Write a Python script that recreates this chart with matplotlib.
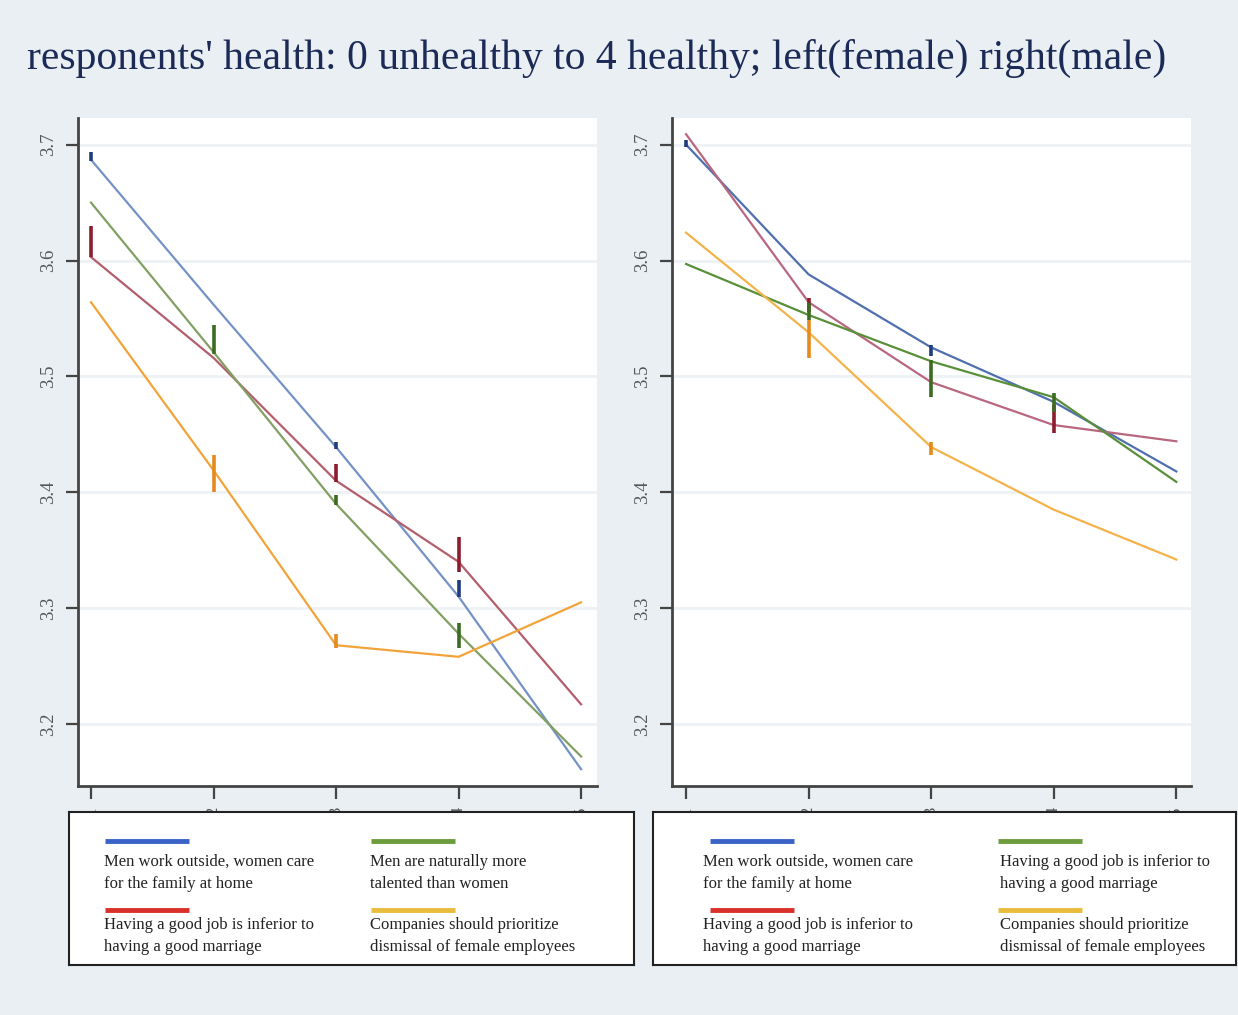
import matplotlib.pyplot as plt
import matplotlib as mpl

mpl.rcParams["font.family"] = "serif"
mpl.rcParams["font.serif"] = ["Liberation Serif", "DejaVu Serif"]

# data
x_vals = [1, 2, 3, 4, 5]
y_ticks = [3.2, 3.3, 3.4, 3.5, 3.6, 3.7]
title = "responents' health: 0 unhealthy to 4 healthy; left(female) right(male)"

female_blue = [3.687, 3.562, 3.439, 3.310, 3.161]
female_red = [3.603, 3.516, 3.410, 3.340, 3.217]
female_green = [3.650, 3.521, 3.390, 3.278, 3.172]
female_orange = [3.564, 3.419, 3.268, 3.258, 3.305]

male_blue = [3.700, 3.588, 3.525, 3.478, 3.418]
male_red = [3.709, 3.564, 3.495, 3.458, 3.444]
male_green = [3.597, 3.553, 3.513, 3.482, 3.409]
male_orange = [3.624, 3.538, 3.439, 3.385, 3.342]

# confidence segments (x, low, high)
female_blue_ci = [(1, 3.686, 3.694), (3, 3.437, 3.443), (4, 3.310, 3.324)]
female_red_ci = [(1, 3.603, 3.630), (3, 3.409, 3.424), (4, 3.331, 3.361)]
female_green_ci = [(2, 3.519, 3.544), (3, 3.389, 3.398), (4, 3.266, 3.287)]
female_orange_ci = [(2, 3.400, 3.432), (3, 3.266, 3.278)]

male_blue_ci = [(1, 3.698, 3.704), (3, 3.518, 3.527)]
male_red_ci = [(2, 3.556, 3.568), (4, 3.451, 3.475)]
male_green_ci = [(2, 3.549, 3.563), (3, 3.482, 3.514), (4, 3.469, 3.486)]
male_orange_ci = [(2, 3.516, 3.549), (3, 3.432, 3.443)]

# legend order: blue, green, red, orange
left_labels = ["Men work outside, women care\nfor the family at home",
               "Men are naturally more\ntalented than women",
               "Having a good job is inferior to\nhaving a good marriage",
               "Companies should prioritize\ndismissal of female employees"]
right_labels = ["Men work outside, women care\nfor the family at home",
                "Having a good job is inferior to\nhaving a good marriage",
                "Having a good job is inferior to\nhaving a good marriage",
                "Companies should prioritize\ndismissal of female employees"]

# colours
bg = "#e9eff2"
line_cols_f = ["#7592c6", "#b35e6c", "#82a064", "#f2a43a"]
line_cols_m = ["#4f6fae", "#b8677f", "#5a8f3a", "#f3b34a"]
ci_cols = ["#1f3d7a", "#8c1c2e", "#3d6b22", "#e68a1e"]
leg_cols = ["#3b62c6", "#6c9c3c", "#d9302a", "#e9bc3c"]

W, H = 1238, 1015
fig = plt.figure(figsize=(W / 100, H / 100), dpi=100, facecolor=bg)


def px_axes(x0, y0, x1, y1):
    return fig.add_axes([x0 / W, 1 - y1 / H, (x1 - x0) / W, (y1 - y0) / H])


def draw_panel(ax, series, cis, cols, xlim):
    ax.set_facecolor("white")
    for yt in y_ticks:
        ax.axhline(yt, color="#eef2f4", lw=2, zorder=0)
    for s, c in zip(series, cols):
        ax.plot(x_vals, s, color=c, lw=1.6, zorder=2)
    for ci, c in zip(cis, ci_cols):
        for (xx, lo, hi) in ci:
            ax.plot([xx, xx], [lo, hi], color=c, lw=2.6, solid_capstyle="butt", zorder=3)
    ax.set_xlim(*xlim)
    ax.set_ylim(3.1465, 3.723)
    ax.set_xticks(x_vals)
    ax.set_xticklabels([str(v) for v in x_vals], rotation=90, color="#555555", fontsize=12)
    ax.set_yticks(y_ticks)
    ax.set_yticklabels([f"{v:.1f}" for v in y_ticks], rotation=90, va="center",
                       color="#555555", fontsize=13.5)
    ax.tick_params(axis="both", direction="out", length=9, width=1.6, color="#444444", pad=6)
    for sp in ["top", "right"]:
        ax.spines[sp].set_visible(False)
    for sp in ["left", "bottom"]:
        ax.spines[sp].set_color("#444444")
        ax.spines[sp].set_linewidth(2)


ax_f = px_axes(78, 118, 597, 786)
draw_panel(ax_f, [female_blue, female_red, female_green, female_orange],
           [female_blue_ci, female_red_ci, female_green_ci, female_orange_ci],
           line_cols_f, (0.894, 5.13))

ax_m = px_axes(672, 118, 1191, 786)
draw_panel(ax_m, [male_blue, male_red, male_green, male_orange],
           [male_blue_ci, male_red_ci, male_green_ci, male_orange_ci],
           line_cols_m, (0.885, 5.12))

fig.text(597 / W, 1 - 58 / H, title, ha="center", va="center", fontsize=30, color="#1c2a57")


def draw_legend(x0, x1, labels, sample_x, text_x):
    lg = px_axes(x0, 812, x1, 965)
    lg.set_xlim(x0, x1)
    lg.set_ylim(965, 812)
    lg.set_xticks([])
    lg.set_yticks([])
    lg.set_facecolor("white")
    for sp in lg.spines.values():
        sp.set_linewidth(1.5)
        sp.set_color("#222222")
    sample_y = [841, 910]
    text_y = [873, 936]
    for k in range(4):
        col = k % 2
        row = k // 2
        lg.plot([sample_x[col], sample_x[col] + 84], [sample_y[row]] * 2, color=leg_cols[k],
                lw=3.5, solid_capstyle="butt")
        lg.text(text_x[col], text_y[row], labels[k], ha="left", va="center", fontsize=12,
                color="#222222", linespacing=1.55)


draw_legend(69, 634, left_labels, [105, 371], [104, 370])
draw_legend(653, 1236, right_labels, [710, 998], [703, 1000])

fig.savefig("out.png", dpi=100, facecolor=bg)
